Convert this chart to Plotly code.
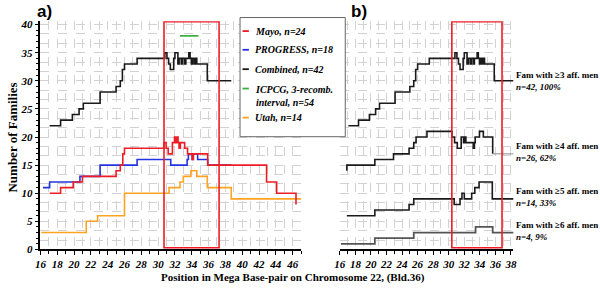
import plotly.graph_objects as go

# ---------------- data ----------------
# Panel a) number of families per position (Mb), step lines
comb_x = [17.1, 18.4, 19.8, 20.6, 21.1, 23.1, 25.0, 25.5, 25.75, 26.0, 27.5, 30.8, 31.05,
          31.25, 31.45, 31.85, 32.0, 32.35, 32.5, 32.75, 32.9, 33.15, 33.3, 33.65, 33.8,
          33.95, 34.1, 34.3, 34.45, 34.6, 35.85, 38.7]
comb_y = [22, 23, 24, 25, 26, 28, 29, 30, 32, 33, 34, 35, 34, 33, 32, 34, 35, 33, 34, 33,
          34, 33, 34, 35, 34, 33, 34, 33, 34, 33, 30, 30]

mayo_x = [17.1, 18.4, 19.9, 21.0, 25.0, 25.5, 25.8, 26.0, 30.7, 30.95, 31.2, 31.7, 31.95,
          32.1, 32.2, 32.37, 32.49, 32.65, 33.15, 33.5, 34.05, 34.2, 35.9, 42.9, 44.1, 46.4]
mayo_y = [10, 11, 12, 13, 14, 15, 17, 18, 19, 18, 17, 19, 20, 19, 20, 19, 18, 19, 18, 17,
          16, 17, 15, 12, 10, 8]

prog_x = [16.3, 17.1, 20.7, 23.1, 27.5, 31.5, 33.45, 33.6, 34.05, 34.15, 34.7, 35.9, 38.7]
prog_y = [11, 12, 13, 15, 16, 15, 16, 17, 16, 17, 16, 15, 15]

utah_x = [16.1, 21.45, 22.8, 26.0, 31.3, 32.6, 33.0, 33.9, 34.6, 35.85, 38.7, 47.2]
utah_y = [3, 5, 6, 10, 11, 12, 13, 14, 13, 11, 9, 9]

icpcg_x = [32.6, 34.8]
icpcg_y = [38, 38]

# Panel b) families with >=k affected men
ge4_x = [16.9, 16.9, 20.5, 22.9, 24.9, 25.5, 25.8, 27.2, 30.4, 30.75, 31.1, 31.6, 31.9,
         32.05, 32.2, 33.15, 33.3, 33.4, 33.95, 34.45, 35.65]
ge4_y = [14, 15, 16, 17, 18, 19, 20, 21, 20, 19, 18, 20, 19, 20, 19, 18, 19, 20, 21, 20, 17]
ge4_tail_x = [35.65, 38.4]
ge4_tail_y = [17, 17]

ge5_x = [16.9, 20.5, 24.9, 25.5, 30.7, 31.45, 31.7, 32.0, 32.95, 33.35, 33.9, 35.6, 38.4]
ge5_y = [6, 7, 8, 9, 8, 9, 10, 9, 10, 11, 12, 9, 9]

ge6_x = [16.15, 20.5, 25.5, 33.45, 35.65, 38.4]
ge6_y = [1, 2, 3, 4, 3, 3]

# texts
legend_labels = ["Mayo, n=24", "PROGRESS, n=18", "Combined, n=42",
                 "ICPCG, 3-recomb.<br>interval, n=54", "Utah, n=14"]
panel_b_labels = ["Fam with ≥3 aff. men", "Fam with ≥4 aff. men",
                  "Fam with ≥5 aff. men", "Fam with ≥6 aff. men"]
panel_b_counts = ["n=42, 100%", "n=26, 62%", "n=14, 33%", "n=4, 9%"]
x_title = "Position in Mega Base-pair on Chromosome 22, (Bld.36)"
y_title = "Number of Families"

# ---------------- styling ----------------
W, H = 600, 290
RED, BLUE, BLACK, GREEN, ORANGE = "#ee1c24", "#2433e0", "#1a1a1a", "#3cb043", "#ffa323"
SERIF = "Liberation Serif"
GRID = "#d2d2d2"
tickfont = dict(family=SERIF, size=11, color="black", weight="bold", style="italic")


def px_x(p):
    return p / W


def px_y(p):
    return 1 - p / H


YR = [0, 40.6]
ydom = [px_y(254.3), px_y(254.3 - 40.6 * 5.8)]

fig = go.Figure()


def step(x, y, color, width, xa="x", ya="y"):
    fig.add_trace(go.Scatter(x=x, y=y, mode="lines", xaxis=xa, yaxis=ya,
                             line=dict(color=color, width=width, shape="hv"),
                             showlegend=False, hoverinfo="skip"))


# panel a
step(utah_x, utah_y, ORANGE, 1.6)
step(prog_x, prog_y, BLUE, 1.6)
step(mayo_x, mayo_y, RED, 1.6)
step(icpcg_x, icpcg_y, GREEN, 1.8)
step(comb_x, comb_y, BLACK, 1.6)
# helper trace for grid-overlay axis
fig.add_trace(go.Scatter(x=[None], y=[None], xaxis="x", yaxis="y3", showlegend=False,
                         hoverinfo="skip"))
# panel b
step(comb_x, comb_y, BLACK, 1.6, "x2", "y2")
step(ge4_x, ge4_y, BLACK, 1.6, "x2", "y2")
step(ge4_tail_x, ge4_tail_y, "#8a8a8a", 1.0, "x2", "y2")
step(ge5_x, ge5_y, BLACK, 1.6, "x2", "y2")
step(ge6_x, ge6_y, "#555555", 1.8, "x2", "y2")

xcommon = dict(tick0=16, dtick=2, ticks="outside", ticklen=4, tickwidth=1, tickcolor="black",
               showline=True, linecolor="black", linewidth=1.5, zeroline=False,
               showgrid=True, gridcolor=GRID, griddash="dash", gridwidth=1,
               minor=dict(tick0=16, dtick=1, ticks="outside", ticklen=3, tickcolor="black",
                          showgrid=True, gridcolor=GRID, griddash="dash", gridwidth=1),
               tickfont=tickfont)

fig.update_layout(
    width=W, height=H, margin=dict(l=0, r=0, t=0, b=0),
    plot_bgcolor="white", paper_bgcolor="white", showlegend=False,
    xaxis=dict(domain=[px_x(35), px_x(300.05)], range=[16, 47], anchor="y", **xcommon),
    yaxis=dict(domain=ydom, range=YR, anchor="x", tick0=0, dtick=5, ticks="outside",
               ticklen=4, tickcolor="black", showline=True, linecolor="black", linewidth=1.5,
               zeroline=False, showgrid=False, tickfont=tickfont,
               minor=dict(tick0=0, dtick=1, ticks="outside", ticklen=2.5, tickcolor="black",
                          showgrid=False)),
    yaxis3=dict(overlaying="y", range=YR, anchor="x", tick0=0, dtick=5 / 3, ticks="",
                showticklabels=False, showline=False, zeroline=False, showgrid=True,
                gridcolor=GRID, griddash="dash", gridwidth=1),
    xaxis2=dict(domain=[px_x(339.5), px_x(515.9)], range=[16, 38.3], anchor="y2", **xcommon),
    yaxis2=dict(domain=ydom, range=YR, anchor="x2", tick0=0, dtick=5 / 3, ticks="",
                showticklabels=False, showline=False, zeroline=False, showgrid=True,
                gridcolor=GRID, griddash="dash", gridwidth=1),
)

shapes = [
    dict(type="rect", xref="x", yref="y", x0=30.7, x1=37.25, y0=0.3, y1=40.5,
         line=dict(color=RED, width=1.6), layer="above"),
    dict(type="rect", xref="x2", yref="y2", x0=30.4, x1=36.85, y0=0.3, y1=40.5,
         line=dict(color=RED, width=1.6), layer="above"),
    # legend box
    dict(type="rect", xref="paper", yref="paper", x0=px_x(238), x1=px_x(345),
         y0=px_y(138), y1=px_y(15), line=dict(color="#666666", width=1),
         fillcolor="white", layer="above"),
]
legend_colors = [RED, BLUE, BLACK, GREEN, ORANGE]
legend_rows = [29, 48.3, 68.3, 88.3, 118.3]
annotations = []
for lab, col, row in zip(legend_labels, legend_colors, legend_rows):
    shapes.append(dict(type="line", xref="paper", yref="paper", x0=px_x(240.5), x1=px_x(247),
                       y0=px_y(row), y1=px_y(row), line=dict(color=col, width=1.8),
                       layer="above"))
    multi = "<br>" in lab
    annotations.append(dict(xref="paper", yref="paper", x=px_x(251), y=px_y(row - 6.5 if multi else row),
                            xanchor="left", yanchor="top" if multi else "middle",
                            text=lab, showarrow=False, align="left",
                            font=dict(family=SERIF, size=10, color="black", weight="bold",
                                      style="italic")))

b_rows = [80, 154.2, 200, 235.3]
for lab, cnt, row in zip(panel_b_labels, panel_b_counts, b_rows):
    annotations.append(dict(xref="paper", yref="paper", x=px_x(517), y=px_y(row),
                            xanchor="left", yanchor="middle", align="left",
                            text=lab + "<br><i>" + cnt + "</i>", showarrow=False,
                            font=dict(family=SERIF, size=9, color="black", weight="bold")))

annotations += [
    dict(xref="paper", yref="paper", x=px_x(29), y=px_y(8.5), xanchor="left", yanchor="middle",
         text="a)", showarrow=False,
         font=dict(family="Liberation Sans", size=17, color="black", weight="bold")),
    dict(xref="paper", yref="paper", x=px_x(349), y=px_y(8.5), xanchor="left", yanchor="middle",
         text="b)", showarrow=False,
         font=dict(family="Liberation Sans", size=17, color="black", weight="bold")),
    dict(xref="paper", yref="paper", x=px_x(292), y=px_y(283), xanchor="center",
         yanchor="middle", text=x_title, showarrow=False,
         font=dict(family=SERIF, size=11, color="black", weight="bold")),
    dict(xref="paper", yref="paper", x=px_x(7), y=px_y(139), xanchor="center",
         yanchor="middle", text=y_title, textangle=-90, showarrow=False,
         font=dict(family=SERIF, size=13, color="black", weight="bold")),
]

fig.update_layout(shapes=shapes, annotations=annotations)
fig.write_html("out.html", config={"displayModeBar": False},
               post_script="document.body.style.margin='0';document.body.style.padding='0';")
